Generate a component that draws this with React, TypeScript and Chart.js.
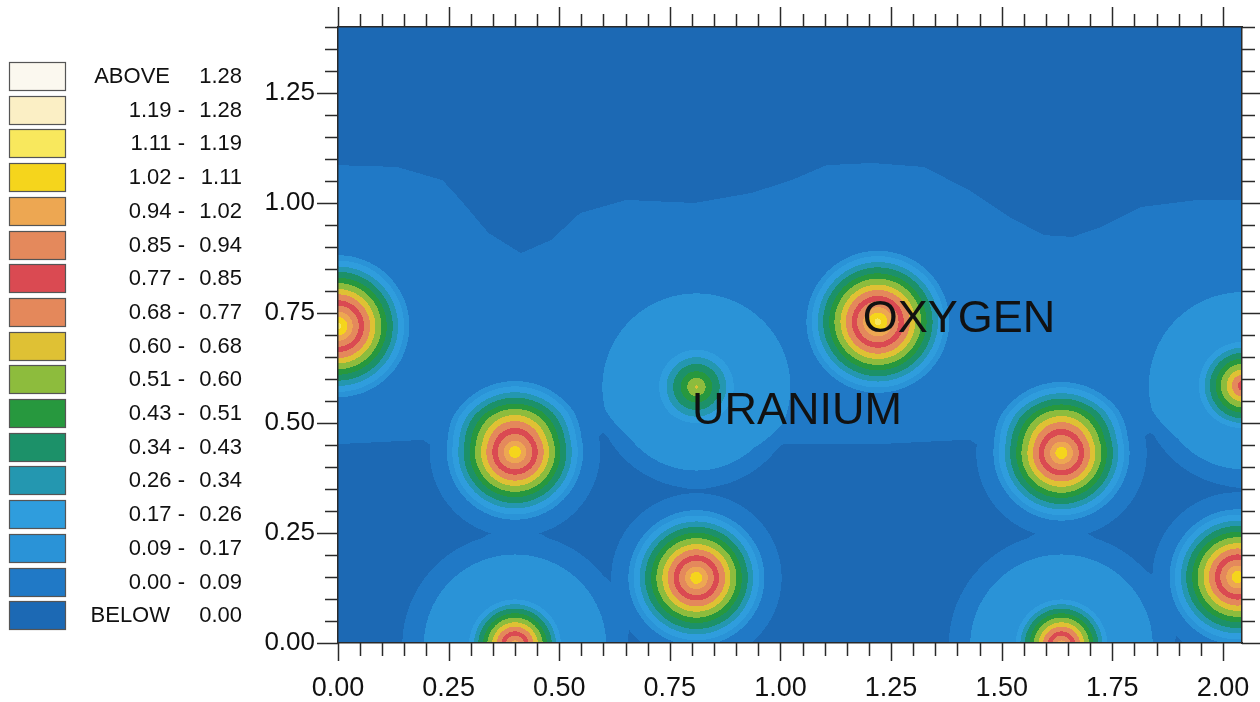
import React, { useEffect, useRef } from "react";
import { Chart, registerables } from "chart.js";

Chart.register(...registerables);

// ---- contour bands (lower bounds) and colours, BELOW ... ABOVE ----
const levelBreaks = [0.0, 0.09, 0.17, 0.26, 0.34, 0.43, 0.51, 0.6, 0.68, 0.77, 0.85, 0.94, 1.02, 1.11, 1.19, 1.28];
const bandColors = [
  "#1C69B4", // BELOW 0.00
  "#2079C6", // 0.00 - 0.09
  "#2A93D7", // 0.09 - 0.17
  "#2F9DDD", // 0.17 - 0.26
  "#2497B0", // 0.26 - 0.34
  "#1C9169", // 0.34 - 0.43
  "#27983E", // 0.43 - 0.51
  "#8DBC3D", // 0.51 - 0.60
  "#DFC134", // 0.60 - 0.68
  "#E4885B", // 0.68 - 0.77
  "#DA4A52", // 0.77 - 0.85
  "#E4895C", // 0.85 - 0.94
  "#EDA752", // 0.94 - 1.02
  "#F5D51C", // 1.02 - 1.11
  "#F8E85D", // 1.11 - 1.19
  "#FBEFC5", // 1.19 - 1.28
  "#FBF8EF", // ABOVE 1.28
];

// ---- legend text, top to bottom ----
const legendLeftText = ["ABOVE", "1.19 -", "1.11 -", "1.02 -", "0.94 -", "0.85 -", "0.77 -", "0.68 -", "0.60 -", "0.51 -", "0.43 -", "0.34 -", "0.26 -", "0.17 -", "0.09 -", "0.00 -", "BELOW"];
const legendRightText = ["1.28", "1.28", "1.19", "1.11", "1.02", "0.94", "0.85", "0.77", "0.68", "0.60", "0.51", "0.43", "0.34", "0.26", "0.17", "0.09", "0.00"];

// ---- axes ----
const xMin = 0;
const xMax = 2.043;
const yMin = 0;
const yMax = 1.4;
const minorStep = 0.05;
const majorStep = 0.25;

// ---- oxygen peaks ----
const oxygenX = [0.0, 0.4, 1.22, 1.635, 0.81, 2.033];
const oxygenY = [0.72, 0.434, 0.73, 0.432, 0.148, 0.15];
const oxygenPeak = [1.0, 1.0, 1.0, 1.0, 1.0, 1.0];
const oxygenReach = [0.165, 0.165, 0.165, 0.165, 0.165, 0.165];
const oxygenFoot = [0.12, 0.12, 0.12, 0.12, 0.12, 0.12];
const oxygenFootReach = [0.21, 0.21, 0.21, 0.21, 0.21, 0.21];

// ---- uranium peaks ----
const uraniumX = [0.81, 2.045, 0.4, 1.635];
const uraniumY = [0.582, 0.585, -0.005, -0.005];
const uraniumPeak = [0.48, 0.71, 0.91, 0.91];
const uraniumCore = [0.09, 0.104, 0.11, 0.11];
const uraniumHalo = [0.1, 0.1, 0.13, 0.13];
const uraniumHaloFlat = [0.19, 0.19, 0.19, 0.19];
const uraniumHaloReach = [0.235, 0.235, 0.26, 0.26];

// ---- zero contour across the top ----
const zeroContourX = [0.0, 0.133, 0.236, 0.277, 0.34, 0.413, 0.482, 0.547, 0.651, 0.806, 0.935, 1.025, 1.104, 1.207, 1.324, 1.425, 1.518, 1.595, 1.66, 1.723, 1.815, 1.943, 2.043];
const zeroContourY = [1.086, 1.082, 1.052, 1.007, 0.932, 0.886, 0.916, 0.977, 1.007, 1.0, 1.023, 1.052, 1.086, 1.091, 1.082, 1.03, 0.968, 0.927, 0.923, 0.945, 0.991, 1.007, 1.007];
// ---- edge of the raised band in the lower half ----
const lowerContourX = [0.0, 0.6, 1.0, 1.22, 1.83, 2.043];
const lowerContourY = [0.47, 0.5, 0.47, 0.47, 0.5, 0.48];
const bandLevel = 0.04;
const topLevel = -0.04;
const lowLevel = -0.01;

// ---- text labels ----
const labelText = ["OXYGEN", "URANIUM"];
const labelX = [1.186, 0.8];
const labelY = [0.706, 0.497];

const FONT = "'Liberation Sans', Arial, Helvetica, sans-serif";

function interp(xs: number[], ys: number[], x: number) {
  if (x <= xs[0]) return ys[0];
  for (let i = 1; i < xs.length; i++) {
    if (x <= xs[i]) {
      const t = (x - xs[i - 1]) / (xs[i] - xs[i - 1]);
      return ys[i - 1] + t * (ys[i] - ys[i - 1]);
    }
  }
  return ys[ys.length - 1];
}

function hexRgb(h: string) {
  return [parseInt(h.slice(1, 3), 16), parseInt(h.slice(3, 5), 16), parseInt(h.slice(5, 7), 16)];
}

const isMajor = (v: number) => Math.abs(v / majorStep - Math.round(v / majorStep)) < 1e-6;

const fieldPlugin = {
  id: "densityField",
  beforeDraw(chart: any) {
    const { ctx, chartArea: a, scales } = chart;
    const xs = scales.x;
    const ys = scales.y;
    const w = Math.round(a.right - a.left);
    const h = Math.round(a.bottom - a.top);
    const off = document.createElement("canvas");
    off.width = w;
    off.height = h;
    const octx = off.getContext("2d")!;
    const img = octx.createImageData(w, h);
    const oxy = chart.data.datasets[0].data;
    const ura = chart.data.datasets[1].data;
    const rgb = bandColors.map(hexRgb);
    const xv = new Float64Array(w);
    const zTop = new Float64Array(w);
    const zLow = new Float64Array(w);
    for (let i = 0; i < w; i++) {
      xv[i] = xs.getValueForPixel(a.left + i + 0.5);
      zTop[i] = interp(zeroContourX, zeroContourY, xv[i]);
      zLow[i] = interp(lowerContourX, lowerContourY, xv[i]);
    }
    for (let j = 0; j < h; j++) {
      const yv = ys.getValueForPixel(a.top + j + 0.5);
      for (let i = 0; i < w; i++) {
        const x = xv[i];
        let sum = 0;
        for (let k = 0; k < oxy.length; k++) {
          const p = oxy[k];
          const r = Math.hypot(x - p.x, yv - p.y);
          if (r < p.reach) sum += p.peak * (1 - r / p.reach);
          if (r < p.footReach) sum += p.foot * (1 - r / p.footReach);
        }
        for (let k = 0; k < ura.length; k++) {
          const p = ura[k];
          const r = Math.hypot(x - p.x, yv - p.y);
          if (r < p.core) sum += p.peak * (1 - r / p.core);
          if (r < p.haloReach) sum += p.halo * Math.min(1, (p.haloReach - r) / (p.haloReach - p.haloFlat));
        }
        let base: number;
        if (yv > zTop[i]) base = topLevel;
        else {
          const t = Math.max(0, Math.min(1, (yv - zLow[i]) / 0.06 + 0.5));
          base = lowLevel + (bandLevel - lowLevel) * t;
        }
        const v = base + sum;
        let band = 0;
        while (band < levelBreaks.length && v >= levelBreaks[band]) band++;
        const c = rgb[band];
        const idx = (j * w + i) * 4;
        img.data[idx] = c[0];
        img.data[idx + 1] = c[1];
        img.data[idx + 2] = c[2];
        img.data[idx + 3] = 255;
      }
    }
    octx.putImageData(img, 0, 0);
    ctx.drawImage(off, a.left, a.top);
  },
  afterDraw(chart: any) {
    const { ctx, chartArea: a, scales } = chart;
    ctx.save();
    ctx.strokeStyle = "#2a2a2a";
    ctx.lineWidth = 1.5;
    const drawTicks = (scale: any, side: string, minorLen: number, majorLen: number) => {
      const n = Math.round((scale.max - scale.min) / minorStep);
      for (let k = 0; k <= n; k++) {
        const v = scale.min + k * minorStep;
        if (v > scale.max + 1e-9) break;
        const len = isMajor(v) ? majorLen : minorLen;
        const p = Math.round(scale.getPixelForValue(v)) + 0.5;
        ctx.beginPath();
        if (side === "bottom") { ctx.moveTo(p, a.bottom); ctx.lineTo(p, a.bottom + len); }
        if (side === "top") { ctx.moveTo(p, a.top); ctx.lineTo(p, a.top - len); }
        if (side === "left") { ctx.moveTo(a.left, p); ctx.lineTo(a.left - len, p); }
        if (side === "right") { ctx.moveTo(a.right, p); ctx.lineTo(a.right + len, p); }
        ctx.stroke();
      }
    };
    drawTicks(scales.x, "bottom", 13, 18);
    drawTicks(scales.x2, "top", 13, 20);
    drawTicks(scales.y, "left", 13, 21);
    drawTicks(scales.y2, "right", 13, 18);

    ctx.fillStyle = "#111";
    ctx.font = `45px ${FONT}`;
    ctx.textAlign = "left";
    ctx.textBaseline = "alphabetic";
    for (let i = 0; i < labelText.length; i++) {
      ctx.fillText(labelText[i], scales.x.getPixelForValue(labelX[i]), scales.y.getPixelForValue(labelY[i]));
    }

    const boxX = 9, boxW = 56, boxH = 28, top0 = 62, pitch = 33.7;
    ctx.font = `22px ${FONT}`;
    ctx.textBaseline = "middle";
    for (let i = 0; i < legendLeftText.length; i++) {
      const y0 = Math.round(top0 + i * pitch);
      ctx.fillStyle = bandColors[bandColors.length - 1 - i];
      ctx.fillRect(boxX, y0, boxW, boxH);
      ctx.strokeStyle = "#555";
      ctx.lineWidth = 1.2;
      ctx.strokeRect(boxX + 0.5, y0 + 0.5, boxW, boxH);
      ctx.fillStyle = "#111";
      ctx.textAlign = "right";
      const isWord = legendLeftText[i] === "ABOVE" || legendLeftText[i] === "BELOW";
      ctx.fillText(legendLeftText[i], isWord ? 170 : 185, y0 + boxH / 2 + 1);
      ctx.fillText(legendRightText[i], 242, y0 + boxH / 2 + 1);
    }
    ctx.restore();
  },
};

export default function App() {
  const ref = useRef<HTMLCanvasElement | null>(null);
  useEffect(() => {
    document.body.style.margin = "0";
    const oxygen = oxygenX.map((x, i) => ({
      x,
      y: oxygenY[i],
      peak: oxygenPeak[i],
      reach: oxygenReach[i],
      foot: oxygenFoot[i],
      footReach: oxygenFootReach[i],
    }));
    const uranium = uraniumX.map((x, i) => ({
      x,
      y: uraniumY[i],
      peak: uraniumPeak[i],
      core: uraniumCore[i],
      halo: uraniumHalo[i],
      haloFlat: uraniumHaloFlat[i],
      haloReach: uraniumHaloReach[i],
    }));
    const tickCfg = (show: boolean, size: number, padding: number) => ({
      display: show,
      stepSize: minorStep,
      autoSkip: false,
      includeBounds: false,
      maxRotation: 0,
      padding,
      color: "#111",
      font: { family: FONT, size },
      callback: (v: any) => (isMajor(Number(v)) ? Number(v).toFixed(2) : ""),
    });
    const grid = { display: true, drawOnChartArea: false, drawTicks: false };
    const border = { display: true, color: "#2a2a2a", width: 1.5 };
    const fit = (dim: "width" | "height", val: number) => (s: any) => {
      s[dim] = val;
      s.paddingLeft = 0;
      s.paddingRight = 0;
      s.paddingTop = 0;
      s.paddingBottom = 0;
    };
    const chart = new Chart(ref.current!, {
      type: "scatter",
      data: {
        datasets: [
          { label: "Oxygen", data: oxygen, pointRadius: 0, showLine: false },
          { label: "Uranium", data: uranium, pointRadius: 0, showLine: false },
        ],
      },
      plugins: [fieldPlugin],
      options: {
        animation: false,
        responsive: true,
        maintainAspectRatio: false,
        layout: { padding: 0 },
        plugins: { legend: { display: false }, tooltip: { enabled: false } },
        scales: {
          x: {
            type: "linear", position: "bottom", min: xMin, max: xMax,
            ticks: tickCfg(true, 27, 29), grid, border,
            afterFit: fit("height", 59),
          },
          x2: {
            type: "linear", position: "top", min: xMin, max: xMax,
            ticks: tickCfg(false, 12, 0), grid, border,
            afterFit: fit("height", 27),
          },
          y: {
            type: "linear", position: "left", min: yMin, max: yMax,
            ticks: tickCfg(true, 26, 23), grid, border,
            afterFit: fit("width", 338),
          },
          y2: {
            type: "linear", position: "right", min: yMin, max: yMax,
            ticks: tickCfg(false, 12, 0), grid, border,
            afterFit: fit("width", 18),
          },
        },
      },
    } as any);
    return () => chart.destroy();
  }, []);
  return (
    <div style={{ width: 1260, height: 702, position: "relative", background: "#fff" }}>
      <canvas ref={ref} />
    </div>
  );
}
